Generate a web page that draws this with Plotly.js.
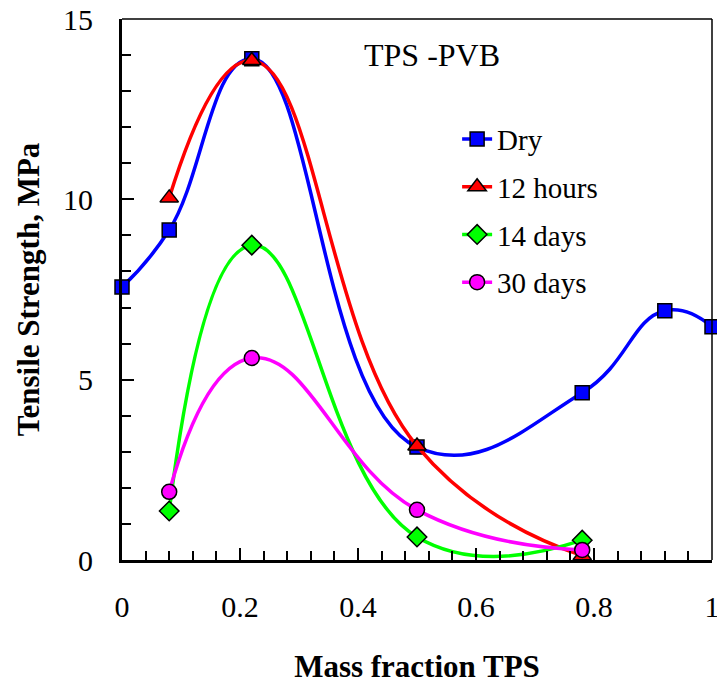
<!DOCTYPE html>
<html>
<head>
<meta charset="utf-8">
<script src="https://cdn.plot.ly/plotly-3.0.1.min.js"></script>
<style>html,body{margin:0;padding:0;background:#fff;}</style>
</head>
<body>
<div id="chart"></div>
<script>
// Data
var xDry = [0, 0.08, 0.22, 0.5, 0.78, 0.92, 1.0];
var yDry = [7.57, 9.15, 13.9, 3.13, 4.64, 6.91, 6.47];
var xWet = [0.08, 0.22, 0.5, 0.78];
var y12h = [10.04, 13.85, 3.16, 0.12];
var y14d = [1.36, 8.73, 0.64, 0.55];
var y30d = [1.89, 5.6, 1.39, 0.28];
var seriesNames = ["Dry", "12 hours", "14 days", "30 days"];

var FONT = "Liberation Serif";
function mk(sym, color, size) {
  return {symbol: sym, color: color, size: size, line: {color: "#000", width: 1.5}};
}
var traces = [
  {x: xDry, y: yDry, name: seriesNames[0], mode: "lines+markers", legendgroup: "a",
   line: {color: "#0000FF", width: 3.5, shape: "spline", smoothing: 1.3},
   marker: mk("square", "#0000FF", 14), cliponaxis: false},
  {x: xWet, y: y12h, name: seriesNames[1], mode: "lines+markers", legendgroup: "b",
   line: {color: "#FF0000", width: 3.5, shape: "spline", smoothing: 1.3},
   marker: mk("triangle-up", "#FF0000", 16), cliponaxis: false},
  {x: xWet, y: y14d, name: seriesNames[2], mode: "lines+markers", legendgroup: "c",
   line: {color: "#00FF00", width: 3.5, shape: "spline", smoothing: 1.3},
   marker: mk("diamond", "#00FF00", 15), cliponaxis: true},
  {x: xWet, y: y30d, name: seriesNames[3], mode: "lines+markers", legendgroup: "d",
   line: {color: "#FF00FF", width: 3.5, shape: "spline", smoothing: 1.3},
   marker: mk("circle", "#FF00FF", 15), cliponaxis: false}
];

var layout = {
  width: 717, height: 684,
  margin: {l: 122, r: 5, t: 19, b: 124},
  paper_bgcolor: "#fff", plot_bgcolor: "#fff",
  font: {family: FONT, color: "#000", size: 30},
  showlegend: true,
  legend: {x: 0.568, y: 0.825, xanchor: "left", yanchor: "top", bgcolor: "rgba(0,0,0,0)",
           font: {family: FONT, size: 29, color: "#000"}, tracegroupgap: 7, traceorder: "grouped"},
  xaxis: {
    range: [0, 1], dtick: 0.2, tick0: 0, showgrid: false, zeroline: false,
    showline: true, linecolor: "#000", linewidth: 3,
    ticks: "inside", ticklen: 12, tickwidth: 2, tickcolor: "#000",
    minor: {dtick: 0.04, ticks: "inside", ticklen: 9, tickwidth: 2, tickcolor: "#000", showgrid: false},
    tickfont: {family: FONT, size: 30, color: "#000"},
    ticklabelstandoff: 18, ticklabeloverflow: "allow",
    title: {text: "<b>Mass fraction TPS</b>", font: {family: FONT, size: 31, color: "#000"}, standoff: 42}
  },
  yaxis: {
    range: [0, 15], dtick: 5, tick0: 0, showgrid: false, zeroline: false,
    showline: true, linecolor: "#000", linewidth: 3,
    ticks: "inside", ticklen: 12, tickwidth: 2, tickcolor: "#000",
    minor: {dtick: 1, ticks: "inside", ticklen: 9, tickwidth: 2, tickcolor: "#000", showgrid: false},
    tickfont: {family: FONT, size: 30, color: "#000"},
    ticklabelstandoff: 20, ticklabeloverflow: "allow",
    title: {text: "<b>Tensile Strength, MPa</b>", font: {family: FONT, size: 31, color: "#000"}, standoff: 15}
  },
  shapes: [
    {type: "line", xref: "paper", yref: "paper", x0: 0, x1: 1, y0: 1, y1: 1, line: {color: "#000", width: 1.5}},
    {type: "line", xref: "paper", yref: "paper", x0: 1, x1: 1, y0: 0, y1: 1, line: {color: "#000", width: 1.5}}
  ],
  annotations: [
    {text: "TPS -PVB", xref: "paper", yref: "paper", x: 0.525, y: 0.933, xanchor: "center", yanchor: "middle",
     showarrow: false, font: {family: FONT, size: 32, color: "#000"}}
  ]
};
Plotly.newPlot("chart", traces, layout, {displayModeBar: false, staticPlot: true});
</script>
</body>
</html>
